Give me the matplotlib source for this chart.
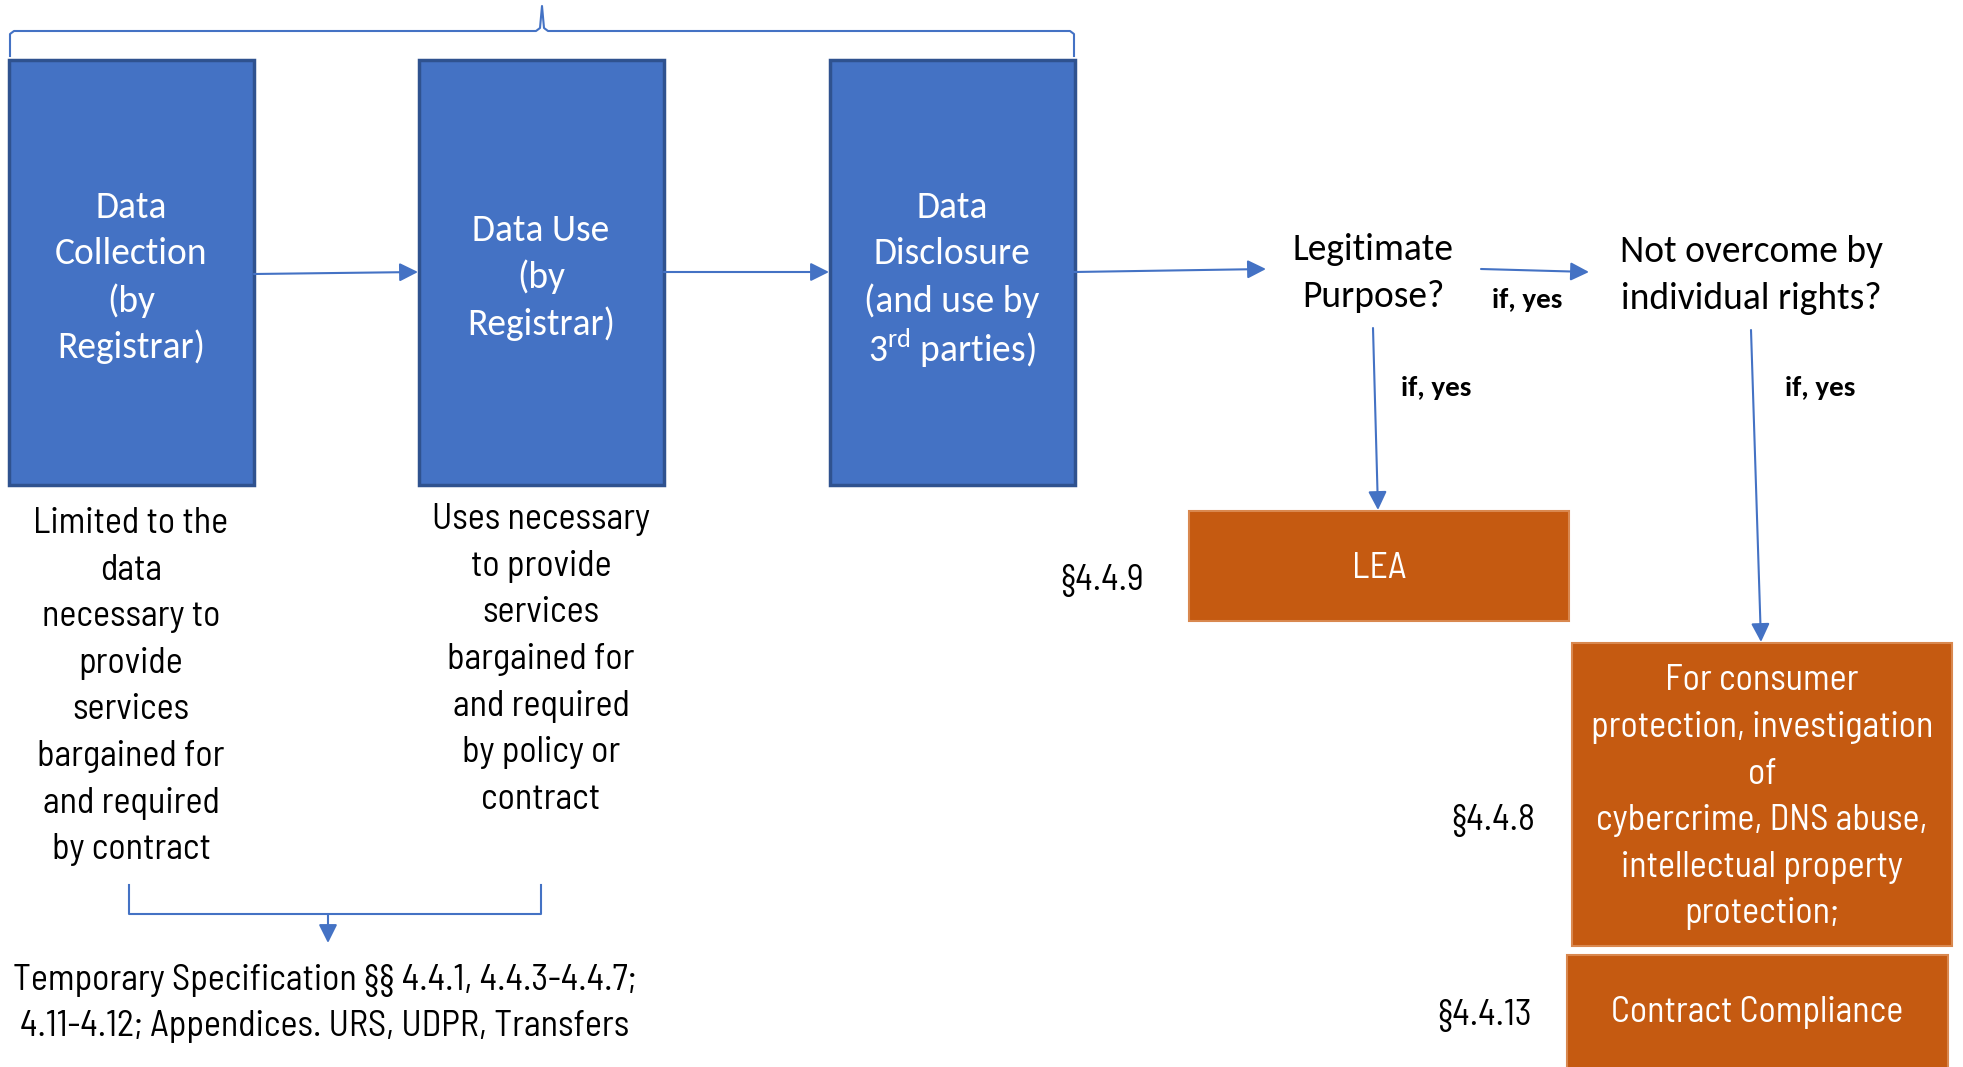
import matplotlib.pyplot as plt
from matplotlib.patches import Rectangle

CAL = ["Carlito", "Liberation Sans", "DejaVu Sans"]
COND = ["Barlow Semi Condensed", "Liberation Sans Narrow", "DejaVu Sans"]
plt.rcParams["font.family"] = CAL
plt.rcParams["mathtext.fontset"] = "custom"
plt.rcParams["mathtext.rm"] = "Carlito"

blue = "#4472C4"
blue_edge = "#2F528F"
orange = "#C55A11"

# stage boxes
stage_labels = [["Data", "Collection", "(by", "Registrar)"],
                ["Data Use", "(by", "Registrar)"],
                ["Data", "Disclosure", "(and use by", "3$^{\\mathrm{rd}}$ parties)"]]
stage_x = [9, 419, 830]
stage_notes = [["Limited to the", "data", "necessary to", "provide", "services",
                "bargained for", "and required", "by contract"],
               ["Uses necessary", "to provide", "services", "bargained for",
                "and required", "by policy or", "contract"]]

# outcome boxes
outcomes = [["LEA"],
            ["For consumer", "protection, investigation", "of", "cybercrime, DNS abuse,",
             "intellectual property", "protection;"],
            ["Contract Compliance"]]
sections = ["§4.4.9", "§4.4.8", "§4.4.13"]
outcome_boxes = [(1189, 511, 1569, 621), (1572, 643, 1952, 946), (1567, 955, 1948, 1075)]

footer = ["Temporary Specification §§ 4.4.1, 4.4.3-4.4.7;",
          "4.11-4.12; Appendices. URS, UDPR, Transfers"]

fig = plt.figure(figsize=(19.63, 10.67), dpi=100)
ax = fig.add_axes([0, 0, 1, 1])
ax.set_xlim(0, 1963)
ax.set_ylim(1067, 0)
ax.axis("off")

STEP = 46.6


def block(x, yc, lines, family, size, color="black", weight="normal"):
    n = len(lines)
    for i, line in enumerate(lines):
        ax.text(x, yc + (i - (n - 1) / 2) * STEP, line, ha="center", va="center_baseline",
                family=family, fontsize=size, color=color, fontweight=weight)


for lab, x0 in zip(stage_labels, stage_x):
    ax.add_patch(Rectangle((x0, 60), 245, 425, facecolor=blue, edgecolor=blue_edge, lw=2.5))
    block(x0 + 122, 274, lab, CAL, 27, color="white")

block(131, 683, stage_notes[0], COND, 26)
block(541, 656, stage_notes[1], COND, 26)

# top brace
ax.plot([10, 10, 14, 536, 540, 542, 544, 548, 1070, 1074, 1074],
        [56, 34, 31, 31, 28, 6, 28, 31, 31, 34, 56], color=blue, lw=1.5)


def arrow(x0, y0, x1, y1):
    ax.annotate("", xy=(x1, y1), xytext=(x0, y0),
                arrowprops=dict(arrowstyle="-|>", color=blue, lw=1.5,
                                mutation_scale=28, shrinkA=0, shrinkB=0))


arrow(254, 274, 418, 272)
arrow(664, 272, 829, 272)
arrow(1074, 272, 1266, 269)
arrow(1481, 269, 1589, 272)
arrow(1373, 328, 1378, 510)
arrow(1751, 330, 1761, 642)

block(1373, 270, ["Legitimate", "Purpose?"], CAL, 27)
block(1751, 272, ["Not overcome by", "individual rights?"], CAL, 27)
for x, y in [(1527, 298), (1436, 386), (1820, 386)]:
    block(x, y, ["if, yes"], CAL, 21, weight="bold")

sec_pos = [(1102, 577), (1493, 817), (1485, 1012)]
text_y = [565, 794, 1009]
for lab, sec, (x0, y0, x1, y1), (sx, sy), ty in zip(outcomes, sections, outcome_boxes, sec_pos, text_y):
    ax.add_patch(Rectangle((x0, y0), x1 - x0, y1 - y0, facecolor=orange, edgecolor="#D9884F", lw=1.5))
    block((x0 + x1) / 2, ty, lab, COND, 26, color="white")
    block(sx, sy, [sec], COND, 26)

# bottom bracket
ax.plot([129, 129, 541, 541], [885, 914, 914, 885], color=blue, lw=1.5)
arrow(328, 914, 328, 943)
block(325, 1000, footer, COND, 26)

fig.savefig("out.png", dpi=100)
